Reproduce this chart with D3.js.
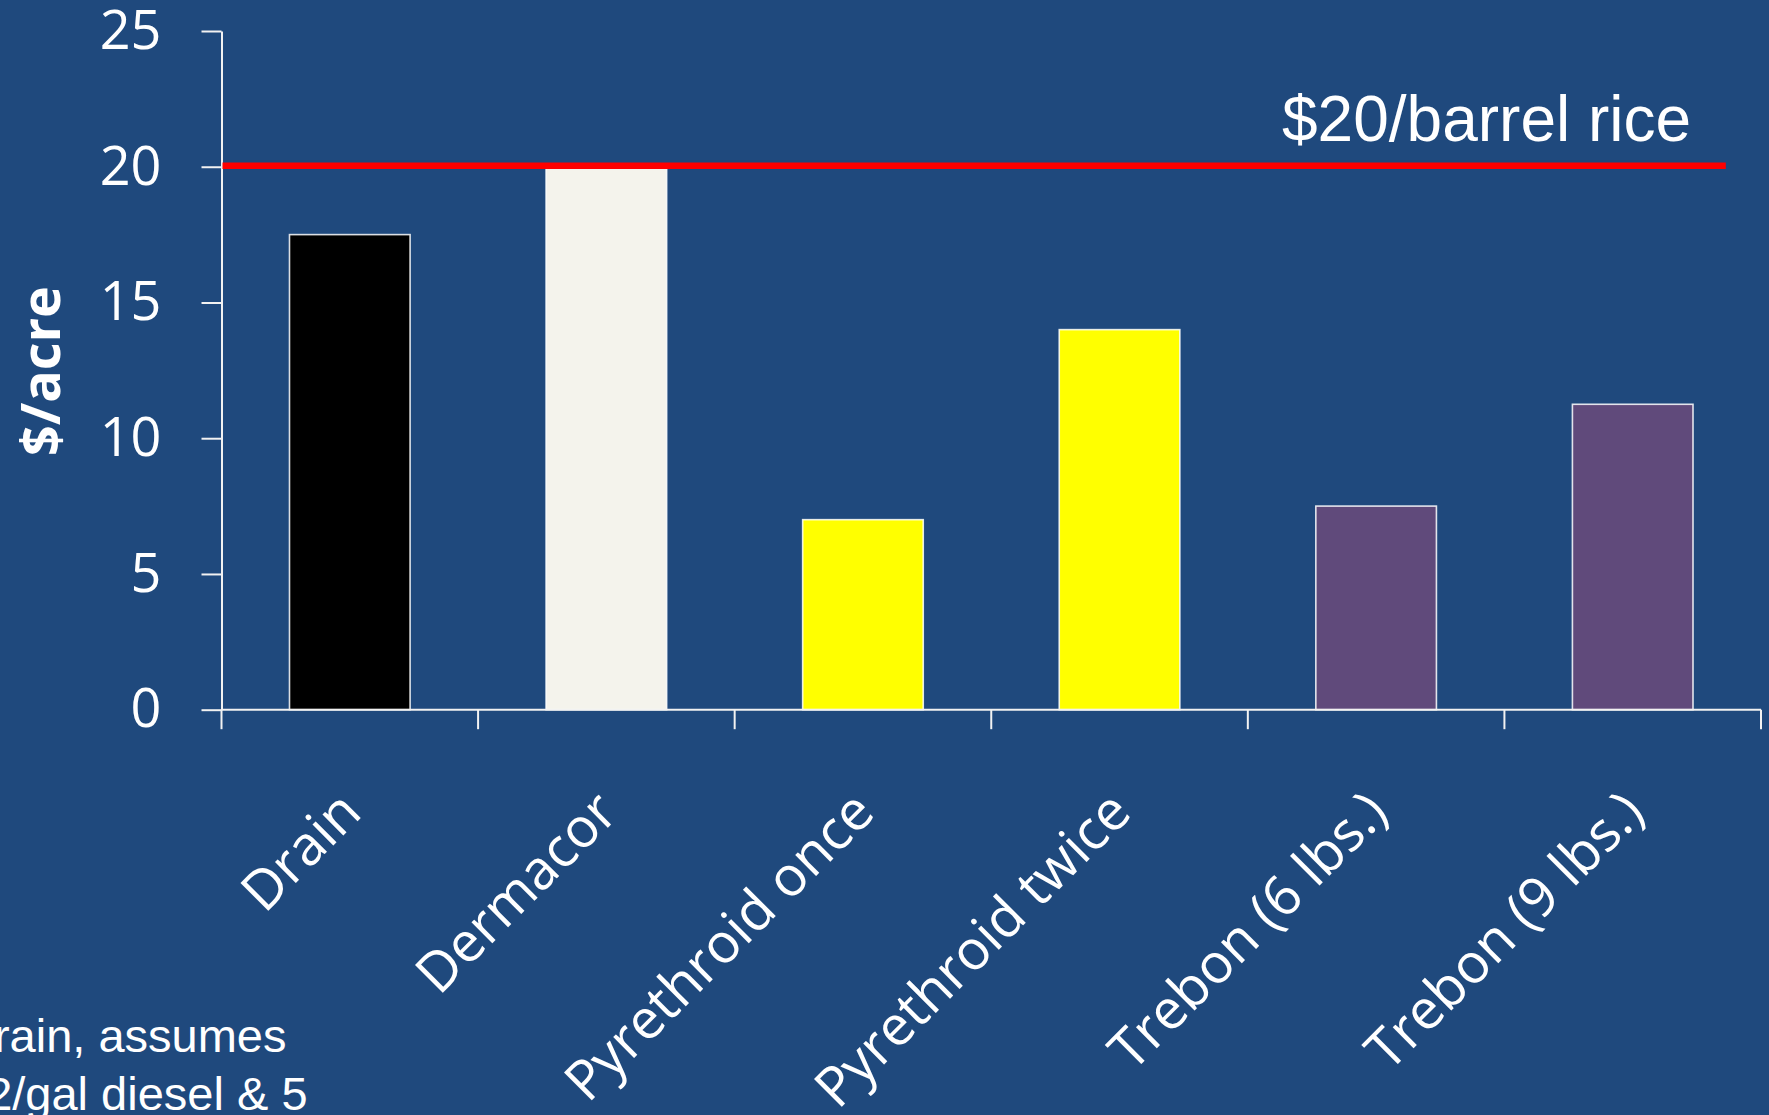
<!DOCTYPE html>
<html>
<head>
<meta charset="utf-8">
<script src="https://cdn.jsdelivr.net/npm/d3@7"></script>
<style>
  html, body { margin: 0; padding: 0; background: #1F497D; overflow: hidden; }
  svg { display: block; }
</style>
</head>
<body>
<svg id="chart" width="1769" height="1115"></svg>
<script>
// ---- data ----
const categories = ["Drain", "Dermacor", "Pyrethroid once", "Pyrethroid twice", "Trebon (6 lbs.)", "Trebon (9 lbs.)"];
const costs = [17.5, 20, 7, 14, 7.5, 11.25];
const barColors = ["#000000", "#F4F3EC", "#FFFF00", "#FFFF00", "#604A7B", "#604A7B"];
const yTicks = [0, 5, 10, 15, 20, 25];
const referenceValue = [20];
const referenceLabel = ["$20/barrel rice"];
const yTitle = "$/acre";
const footnoteLines = ["Drain, assumes", "$2/gal diesel & 5"];

// ---- layout ----
const svg = d3.select("#chart");
const W = 1769, H = 1115;
svg.append("rect").attr("width", W).attr("height", H).attr("fill", "#1F497D");

const x = d3.scaleBand()
  .domain(categories)
  .range([221.5, 1761])
  .paddingInner(0.53)
  .paddingOuter(0.265);

const y = d3.scaleLinear().domain([0, 25]).range([709.7, 31]);

const axisColor = "#F2F2F2";
const labelFont = "'Open Sans', 'Noto Sans', sans-serif";

// bars
svg.append("g").selectAll("rect")
  .data(categories)
  .join("rect")
  .attr("x", d => x(d))
  .attr("width", x.bandwidth())
  .attr("y", (d, i) => y(costs[i]))
  .attr("height", (d, i) => y(0) - y(costs[i]))
  .attr("fill", (d, i) => barColors[i])
  .attr("stroke", "#FFFFFF")
  .attr("stroke-opacity", 0.85)
  .attr("stroke-width", 1.6);

// y axis
const yAxis = d3.axisLeft(y)
  .tickValues(yTicks)
  .tickSize(20)
  .tickSizeOuter(0)
  .tickPadding(40)
  .tickFormat(d3.format("d"));

const gy = svg.append("g")
  .attr("transform", `translate(${x.range()[0]},0)`)
  .call(yAxis);
gy.select(".domain").attr("stroke", axisColor).attr("stroke-width", 2);
gy.selectAll(".tick line").attr("stroke", axisColor).attr("stroke-width", 2);
gy.selectAll(".tick text")
  .attr("fill", "#FFFFFF")
  .style("font-family", labelFont)
  .style("font-size", "54px");

// x axis line
const r0 = x.range()[0], r1 = x.range()[1];
svg.append("line")
  .attr("x1", r0).attr("x2", r1)
  .attr("y1", y(0)).attr("y2", y(0))
  .attr("stroke", axisColor).attr("stroke-width", 2);

// x ticks at band boundaries
const boundaries = d3.range(categories.length + 1);
svg.append("g").selectAll("line")
  .data(boundaries)
  .join("line")
  .attr("x1", i => r0 + i * x.step())
  .attr("x2", i => r0 + i * x.step())
  .attr("y1", y(0))
  .attr("y2", y(0) + 19.5)
  .attr("stroke", axisColor)
  .attr("stroke-width", 2);

// x labels rotated
svg.append("g").selectAll("text")
  .data(categories)
  .join("text")
  .attr("transform", d => `translate(${x(d) + x.bandwidth() / 2 + 14},815) rotate(-45)`)
  .attr("text-anchor", "end")
  .attr("fill", "#FFFFFF")
  .style("font-family", labelFont)
  .style("font-size", "55px")
  .text(d => d);

// y title
svg.append("text")
  .attr("transform", "translate(60,371) rotate(-90)")
  .attr("text-anchor", "middle")
  .attr("fill", "#FFFFFF")
  .style("font-family", labelFont)
  .style("font-weight", "bold")
  .style("font-size", "54px")
  .text(yTitle);

// reference line
svg.append("g").selectAll("line")
  .data(referenceValue)
  .join("line")
  .attr("x1", r0 + 1)
  .attr("x2", 1725.8)
  .attr("y1", d => y(d) - 1)
  .attr("y2", d => y(d) - 1)
  .attr("stroke", "#FF0000")
  .attr("stroke-width", 6.7);

svg.append("g").selectAll("text")
  .data(referenceLabel)
  .join("text")
  .attr("x", 1282)
  .attr("y", 141)
  .attr("fill", "#FFFFFF")
  .style("font-family", "'Liberation Sans', Arial, sans-serif")
  .style("font-size", "64px")
  .text(d => d);

// footnote (partially off-canvas on the left)
svg.append("g").selectAll("text")
  .data(footnoteLines)
  .join("text")
  .attr("x", -40)
  .attr("y", (d, i) => 1051.7 + i * 58.5)
  .attr("fill", "#FFFFFF")
  .style("font-family", "'Liberation Sans', Arial, sans-serif")
  .style("font-size", "47px")
  .text(d => d);
</script>
</body>
</html>
